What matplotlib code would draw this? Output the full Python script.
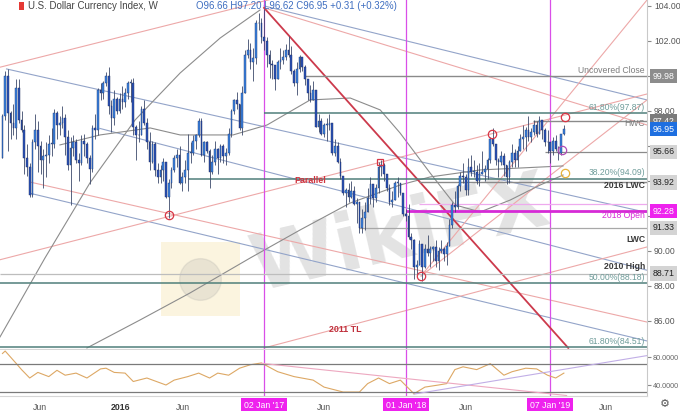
import matplotlib
matplotlib.use('Agg')
import matplotlib.pyplot as plt
import matplotlib.transforms as mtransforms
from matplotlib.patches import Rectangle
import numpy as np

plt.rcParams['font.family'] = ['Liberation Sans', 'DejaVu Sans']

# weekly bars, week 0 = 02 Jan 2017, first bar = week of 02 Mar 2015
first_week = -96
first_open = 95.3

close_2015 = [97.7, 100.0, 97.9, 97.3, 97.0, 99.3, 97.5, 96.9, 95.3, 94.8, 93.2, 96.2, 96.9, 96.0, 95.2,
              95.4, 95.5, 96.1, 96.1, 97.9, 97.2, 97.3, 97.6, 96.5, 94.9, 95.9, 96.2, 95.2, 95.0, 96.3,
              96.1, 95.3, 94.7, 97.0, 96.9, 99.2, 99.0, 99.6, 100.0, 98.3, 97.6, 98.7, 98.0, 98.7]
high_2015 = [97.8, 100.3, 100.4, 98.0, 98.4, 99.8, 99.8, 98.0, 97.2, 96.1, 95.0, 96.4, 97.8, 97.4, 96.3,
             95.8, 96.2, 96.6, 97.0, 98.1, 98.0, 97.7, 98.3, 97.8, 96.9, 96.5, 96.6, 96.4, 95.6, 96.6,
             96.7, 96.2, 95.5, 97.2, 97.8, 99.3, 99.6, 99.7, 100.2, 100.5, 98.6, 99.2, 98.8, 99.0]
low_2015 = [95.3, 97.5, 95.7, 96.4, 96.6, 96.4, 97.3, 96.8, 94.4, 94.3, 93.1, 93.1, 95.8, 94.5, 94.4,
            93.6, 94.2, 95.0, 95.4, 95.9, 96.4, 96.6, 97.0, 95.5, 94.6, 92.6, 95.4, 95.0, 94.0, 94.9,
            95.4, 95.0, 93.8, 94.5, 96.4, 96.6, 98.6, 98.7, 99.4, 97.8, 96.8, 97.2, 97.8, 97.9]

close_2016 = [98.5, 99.0, 99.6, 99.6, 97.1, 96.6, 96.6, 98.1, 97.3, 96.2, 95.1, 96.1, 94.6, 94.2, 94.6,
              95.1, 93.1, 93.9, 94.6, 95.3, 95.5, 93.9, 94.2, 94.6, 95.6, 95.6, 96.3, 96.6, 97.4, 95.5,
              96.2, 95.7, 94.5, 95.1, 95.8, 95.3, 96.0, 95.4, 95.6, 96.7, 98.0, 98.6, 98.4, 97.0, 99.0,
              101.2, 101.5, 100.8, 101.0, 103.0, 103.0, 102.2]
high_2016 = [99.4, 99.3, 99.7, 99.8, 99.9, 97.2, 97.4, 98.3, 98.6, 97.6, 96.8, 96.3, 96.2, 95.0, 94.9,
             95.3, 95.0, 94.1, 94.8, 95.5, 95.8, 96.0, 94.5, 95.2, 96.7, 96.2, 96.6, 96.7, 97.6, 97.6,
             96.3, 96.3, 95.8, 95.5, 96.3, 95.9, 96.1, 96.1, 95.9, 97.0, 98.1, 98.7, 99.1, 98.4, 99.4,
             101.5, 102.1, 101.9, 101.6, 103.2, 103.6, 103.3]
low_2016 = [98.1, 98.2, 98.7, 98.5, 96.6, 95.2, 96.2, 96.6, 97.2, 95.8, 94.6, 95.0, 94.3, 93.9, 93.9,
            94.0, 93.0, 91.9, 93.6, 94.5, 94.8, 93.8, 93.4, 93.9, 93.4, 95.0, 95.5, 95.8, 96.5, 95.4,
            95.1, 95.6, 93.6, 94.4, 94.9, 94.4, 95.1, 95.0, 94.9, 95.5, 96.5, 97.8, 98.1, 96.9, 96.6,
            99.1, 101.0, 100.4, 99.7, 100.7, 102.6, 101.9]

close_2017 = [102.0, 101.2, 100.7, 100.6, 99.8, 100.8, 100.9, 101.1, 101.5, 101.2, 100.3, 99.6, 100.4,
              101.1, 100.5, 99.8, 99.0, 98.6, 99.2, 97.1, 97.4, 96.7, 97.2, 97.2, 97.3, 95.6, 96.0,
              95.1, 94.3, 93.3, 93.5, 93.1, 93.4, 92.7, 92.8, 91.3, 91.9, 92.2, 93.0, 93.8, 93.0, 93.6,
              94.8, 94.9, 94.4, 93.6, 92.8, 92.9, 93.9, 93.9, 93.3, 92.1]
high_2017 = [103.8, 102.2, 101.5, 100.9, 100.3, 100.9, 101.6, 101.5, 101.8, 102.3, 101.7, 100.4, 100.8,
             101.2, 101.1, 100.6, 99.6, 99.5, 99.7, 99.2, 97.8, 97.6, 97.3, 97.6, 97.8, 97.3, 96.4,
             96.2, 95.3, 94.3, 93.6, 93.9, 94.0, 93.7, 93.0, 92.8, 92.4, 92.8, 93.6, 94.2, 93.8, 93.8,
             95.1, 95.2, 95.0, 94.3, 93.8, 93.4, 94.0, 94.2, 93.8, 93.3]
low_2017 = [101.5, 100.5, 99.9, 99.8, 99.2, 99.8, 100.4, 100.7, 100.9, 101.1, 100.1, 99.4, 98.9,
            100.2, 100.3, 99.5, 98.6, 98.5, 98.6, 97.1, 96.8, 96.6, 96.5, 96.3, 96.9, 95.5, 95.4,
            95.0, 94.1, 93.2, 92.5, 92.8, 93.0, 92.6, 91.6, 91.0, 91.0, 91.2, 92.2, 92.7, 92.5, 92.8,
            93.3, 94.3, 94.0, 93.4, 92.6, 92.5, 92.9, 93.1, 93.2, 92.0]

close_2018 = [92.0, 90.8, 90.6, 89.1, 89.2, 90.4, 89.1, 90.1, 89.9, 90.1, 90.2, 89.4, 90.0, 90.1, 89.8,
              90.3, 91.5, 92.6, 92.5, 93.7, 94.3, 94.2, 93.5, 94.8, 94.5, 94.5, 94.0, 94.4, 94.5, 94.7,
              95.2, 96.4, 96.1, 95.2, 95.1, 95.4, 94.9, 94.2, 95.1, 95.6, 95.2, 95.7, 96.4, 96.5, 96.9,
              96.5, 96.8, 97.2, 96.7, 97.5, 96.9, 96.2, 96.2]
high_2018 = [92.4, 92.7, 91.0, 90.7, 89.5, 90.6, 90.4, 90.4, 90.9, 90.3, 90.3, 90.6, 90.2, 90.6, 90.2,
             90.5, 91.8, 92.8, 93.4, 93.8, 94.5, 95.0, 94.4, 95.3, 95.5, 95.2, 94.9, 95.0, 95.7, 94.9,
             95.3, 96.5, 97.0, 96.1, 95.3, 95.7, 95.6, 94.9, 95.2, 96.1, 95.8, 96.0, 96.7, 97.2, 97.1,
             97.7, 97.0, 97.5, 97.4, 97.7, 97.5, 97.0, 96.9]
low_2018 = [91.7, 90.7, 90.1, 88.4, 88.6, 89.2, 88.3, 89.0, 89.7, 89.1, 89.4, 89.1, 88.9, 89.9, 89.4,
            89.2, 90.4, 91.3, 92.2, 92.4, 93.4, 93.9, 93.2, 93.2, 94.3, 94.2, 93.8, 93.7, 94.4, 94.0,
            94.1, 95.0, 96.0, 94.9, 94.2, 94.9, 94.3, 93.8, 93.9, 94.8, 94.8, 94.8, 95.7, 95.8, 95.7,
            96.3, 96.2, 96.6, 96.5, 96.8, 96.4, 96.0, 95.6]

close_2019 = [95.7, 96.3, 95.8, 95.6, 96.66, 96.95]
high_2019 = [96.2, 96.5, 96.6, 96.0, 96.7, 97.20]
low_2019 = [95.0, 95.5, 95.7, 95.2, 95.5, 96.62]

# RSI (week, value)
rsi_weeks = [-96, -95, -91, -89, -86, -83, -79, -76, -73, -69, -65, -60, -58, -55, -51, -48, -43,
             -36, -33, -28, -24, -20, -17, -13, -9, -5, -1, 5, 11, 18, 22, 29, 35, 38, 42, 46, 50,
             55, 59, 64, 67, 70, 73, 78, 83, 88, 91, 96, 100, 104, 107, 110]
rsi_values = [85, 88.5, 71, 62, 50, 58, 52, 61, 54, 57, 50, 63, 64, 58, 57, 45, 50, 40, 47, 52, 57,
              50, 57, 54, 64, 69, 71.5, 59, 52, 47, 37, 30, 30, 42, 50, 42, 47, 27.5, 37, 40, 42,
              62, 66, 62, 70.5, 54, 59, 64, 63, 54, 50, 57]

# horizontal levels
level_prices = [99.98, 97.87, 97.42, 95.66, 94.09, 93.92, 92.69, 92.28, 91.33, 88.71, 88.18, 84.51]
level_starts = [15, 0, 98.7, 103, -28, 57, 57, 52, 35, -96.9, -96.9, -96.9]
level_colors = ['#8a8a8a', '#4f7f7a', '#8a8a8a', '#8a8a8a', '#4f7f7a', '#8a8a8a', '#eeaaee',
                '#d62ad6', '#a8a8a8', '#bdbdbd', '#4f7f7a', '#4f7f7a']
level_widths = [1.0, 1.1, 1.0, 0.9, 1.1, 1.0, 0.9, 2.0, 0.9, 0.9, 1.1, 1.1]

level_texts = ['Uncovered Close', '61.80%(97.87)', 'HWC', '38.20%(94.09)', '2016 LWC', '2018 Open',
               'LWC', '2010 High', '50.00%(88.18)', '61.80%(84.51)']
level_text_y = [100.29, 98.17, 97.26, 94.46, 93.77, 92.0, 90.63, 89.09, 88.46, 84.8]
level_text_col = ['#7d7d7d', '#6f9c9a', '#7d7d7d', '#6f9c9a', '#3a3a3a', '#d62ad6', '#3a3a3a',
                  '#3a3a3a', '#6f9c9a', '#6f9c9a']
level_text_bold = [False, False, False, False, True, False, True, True, False, False]

# right scale tags
tag_prices = [99.98, 97.42, 96.95, 95.66, 93.92, 92.28, 91.33, 88.71]
tag_faces = ['#8c8c8c', '#7a7a7a', '#1e6fe0', '#d4d4d4', '#d4d4d4', '#ee22ee', '#d4d4d4', '#d4d4d4']
tag_text = ['white', 'white', 'white', '#222222', '#222222', 'white', '#222222', '#222222']
scale_ticks = [86, 88, 90, 92, 94, 96, 98, 100, 102, 104]
scale_labels = ['86.00', '88.00', '90.00', '', '', '', '98.00', '', '102.00', '104.00']

# drawn trendlines (week, price) -> (week, price)
blue_lines = [((-94.5, 100.4), (140.5, 92.2)),
              ((-85.9, 93.3), (140.5, 84.86)),
              ((0.0, 104.0), (140.5, 98.63)),
              ((-60.2, 97.0), (140.5, 88.9))]
pink_lines = [((-96.9, 89.5), (140.5, 98.97)),
              ((-96.9, 100.5), (3.0, 104.4)),
              ((0.0, 84.46), (140.5, 90.23)),
              ((-85.9, 93.94), (140.5, 85.94)),
              ((57.6, 88.57), (140.5, 98.63)),
              ((57.6, 88.57), (140.5, 104.34)),
              ((0.0, 103.89), (140.5, 97.2))]
red_line = ((0.0, 103.89), (111.6, 84.46))

arc_weeks = [-96.9, -80.4, -63.9, -47.3, -30.8, -16.1, -1.5]
arc_prices = [85.09, 89.6, 93.89, 97.49, 100.17, 102.17, 103.77]
ma_long_weeks = [-65.0, -45.5, -27.2, -5.1, 13.2, 31.6, 49.9, 60.9, 79.3, 93.9, 109.7]
ma_long = [84.46, 86.06, 87.6, 89.6, 91.2, 92.74, 93.77, 94.23, 94.63, 94.74, 94.86]
ma_short_weeks = [-74.9, -60.2, -41.8, -30.8, -11.4, 1.1, 16.9, 31.6, 42.6, 49.9, 60.9, 70.1, 79.3,
                  90.3, 101.3, 109.7]
ma_short = [96.06, 96.63, 97.03, 96.63, 96.63, 97.2, 98.63, 98.74, 98.06, 96.74, 94.46, 92.63, 92.23,
            92.91, 93.77, 94.34]

# swing markers
mark_weeks = [-34.9, 57.6, 83.7, 110.5]
mark_prices = [92.06, 88.57, 96.69, 97.66]
square_week, square_price = 42.6, 95.09
purple_week, purple_price = 109.4, 95.77
gold_week, gold_price = 110.5, 94.46

vlines_weeks = [0, 52, 105]
date_ticks = [-82.2, -52.8, -29.7, 22, 74, 125.5]
date_labels = ['Jun', '2016', 'Jun', 'Jun', 'Jun', 'Jun']
box_dates = ['02 Jan \'17', '01 Jan \'18', '07 Jan \'19']

x0, x1 = -96.9, 140.5

closes = np.array(close_2015 + close_2016 + close_2017 + close_2018 + close_2019)
highs = np.array(high_2015 + high_2016 + high_2017 + high_2018 + high_2019)
lows = np.array(low_2015 + low_2016 + low_2017 + low_2018 + low_2019)
opens = np.concatenate([[first_open], closes[:-1]])
highs = np.maximum(highs, np.maximum(opens, closes))
lows = np.minimum(lows, np.minimum(opens, closes))
weeks = np.arange(first_week, first_week + len(closes))

fig = plt.figure(figsize=(6.8, 4.11), dpi=100)
ax = fig.add_axes([0, 1 - 349 / 411, 647 / 680, 349 / 411])
rax = fig.add_axes([0, 15 / 411, 647 / 680, 46 / 411])

ax.set_xlim(x0, x1)
ax.set_ylim(84.4, 104.34)
rax.set_xlim(x0, x1)
rax.set_ylim(24.3, 90)

# watermark
ax.add_patch(Rectangle((-38, 86.3), 29, 4.2, facecolor='#f6e2a4', alpha=0.35, edgecolor='none', zorder=0.2))
ax.plot([-23.5], [88.4], 'o', ms=30, color='#9a9a9a', alpha=0.18, zorder=0.25)
ax.text(50, 90.9, 'WikiFX', fontsize=56, fontweight='bold', color='#9a9a9a', alpha=0.28,
        ha='center', va='center', rotation=13, zorder=0.3, family='DejaVu Sans')

# levels
for p, s, c, w in zip(level_prices, level_starts, level_colors, level_widths):
    ax.hlines(p, s, x1, color=c, lw=w, zorder=1.5)

for t, y, c, b in zip(level_texts, level_text_y, level_text_col, level_text_bold):
    ax.text(139.8, y, t, fontsize=6.2, color=c, ha='right', va='center',
            fontweight='bold' if b else 'normal', zorder=4)

for (a, b) in blue_lines:
    ax.plot([a[0], b[0]], [a[1], b[1]], color='#93a4c9', lw=0.8, zorder=1.2)
for (a, b) in pink_lines:
    ax.plot([a[0], b[0]], [a[1], b[1]], color='#eda8a8', lw=0.8, zorder=1.2)
ax.plot([red_line[0][0], red_line[1][0]], [red_line[0][1], red_line[1][1]], color='#cc3a4c', lw=1.3, zorder=1.4)
ax.plot(arc_weeks, arc_prices, color='#8c8c8c', lw=0.8, zorder=1.2)
ax.plot(ma_long_weeks, ma_long, color='#8c8c8c', lw=0.8, zorder=1.2)
ax.plot(ma_short_weeks, ma_short, color='#8c8c8c', lw=0.8, zorder=1.2)

for wk in vlines_weeks:
    ax.axvline(wk, color='#d94fe8', lw=0.9, zorder=1.3)
    rax.axvline(wk, color='#d94fe8', lw=0.9, zorder=1.3)

# candles
up = closes >= opens
body_lo = np.minimum(opens, closes)
body_h = np.maximum(np.abs(closes - opens), 0.05)
ax.vlines(weeks, lows, highs, color='#3d4a6b', lw=0.6, zorder=2)
ax.bar(weeks[up], body_h[up], bottom=body_lo[up], width=0.62, color='#3b82e0',
       edgecolor='#1d3570', linewidth=0.3, zorder=2.1)
ax.bar(weeks[~up], body_h[~up], bottom=body_lo[~up], width=0.62, color='#2a52b8',
       edgecolor='#1d2c5e', linewidth=0.3, zorder=2.1)

ax.plot(mark_weeks, mark_prices, 'o', ms=6, mfc='none', mec='#d83545', mew=0.9, zorder=3)
ax.plot([square_week], [square_price], 's', ms=5, mfc='none', mec='#d83545', mew=0.9, zorder=3)
ax.plot([purple_week], [purple_price], 'o', ms=6, mfc='none', mec='#b04cb6', mew=0.9, zorder=3)
ax.plot([gold_week], [gold_price], 'o', ms=6, mfc='none', mec='#e8b23a', mew=0.9, zorder=3)

ax.text(16.9, 94.0, 'Parallel', fontsize=6.4, color='#d0343f', fontweight='bold', ha='center', va='center')
ax.text(29.7, 85.5, '2011 TL', fontsize=6.4, color='#c0303c', fontweight='bold', ha='center', va='center')

# right price scale
for a in (ax, rax):
    a.spines['top'].set_visible(False)
    a.spines['left'].set_visible(False)
    a.spines['right'].set_color('#c9c9c9')
    a.spines['bottom'].set_color('#d6d6d6')
    a.yaxis.tick_right()
ax.set_xticks([])
ax.set_yticks(scale_ticks)
ax.set_yticklabels(scale_labels)
ax.tick_params(axis='y', length=3, color='#8a8a8a', labelsize=6.2, labelcolor='#555555', pad=2)

tr = mtransforms.blended_transform_factory(ax.transAxes, ax.transData)
for p, fc, tc in zip(tag_prices, tag_faces, tag_text):
    ax.text(1.0085, p, '%.2f' % p, transform=tr, fontsize=6.3, color=tc, ha='left', va='center',
            clip_on=False, zorder=6,
            bbox=dict(boxstyle='square,pad=0.3', fc=fc, ec='none'))

# RSI pane
rax.plot(rsi_weeks, rsi_values, color='#dda865', lw=0.8, zorder=2)
rax.axhline(70, color='#7a7a7a', lw=0.9)
rax.axhline(30, color='#7a7a7a', lw=0.9)
rax.plot([-1, 111], [71, 25], color='#eda8c0', lw=0.8)
rax.plot([55, 140.5], [27, 82], color='#c1aee6', lw=0.8)
rax.set_yticks([40, 80])
rax.set_yticklabels(['40.0000', '80.0000'])
rax.tick_params(axis='y', length=3, color='#8a8a8a', labelsize=5.2, labelcolor='#666666', pad=1)
rax.set_xticks(date_ticks)
rax.set_xticklabels(date_labels)
rax.tick_params(axis='x', length=0, labelsize=6.3, labelcolor='#555555', pad=5)
for lbl in rax.get_xticklabels():
    if lbl.get_text() == '2016':
        lbl.set_fontweight('bold')
        lbl.set_color('#333333')

rtr = mtransforms.blended_transform_factory(rax.transData, rax.transAxes)
for wk, txt in zip(vlines_weeks, box_dates):
    rax.text(wk, -0.2, txt, transform=rtr, fontsize=6.3, color='white', ha='center', va='center',
             clip_on=False, bbox=dict(boxstyle='square,pad=0.3', fc='#ee22ee', ec='none'))

# header
fig.add_artist(Rectangle((19 / 680, 1 - 10 / 411), 5 / 680, 8 / 411, transform=fig.transFigure,
                         facecolor='#e53935', edgecolor='none'))
fig.text(28 / 680, 1 - 6 / 411, 'U.S. Dollar Currency Index, W', fontsize=7, color='#444444', va='center')
fig.text(196 / 680, 1 - 6 / 411, 'O96.66 H97.20 L96.62 C96.95 +0.31 (+0.32%)', fontsize=6.9,
         color='#3d6dc0', va='center')
fig.text(665 / 680, 1 - 404 / 411, '\u2699', fontsize=8, color='#555555', ha='center', va='center',
         family='DejaVu Sans')

fig.savefig('out.png', dpi=100)
